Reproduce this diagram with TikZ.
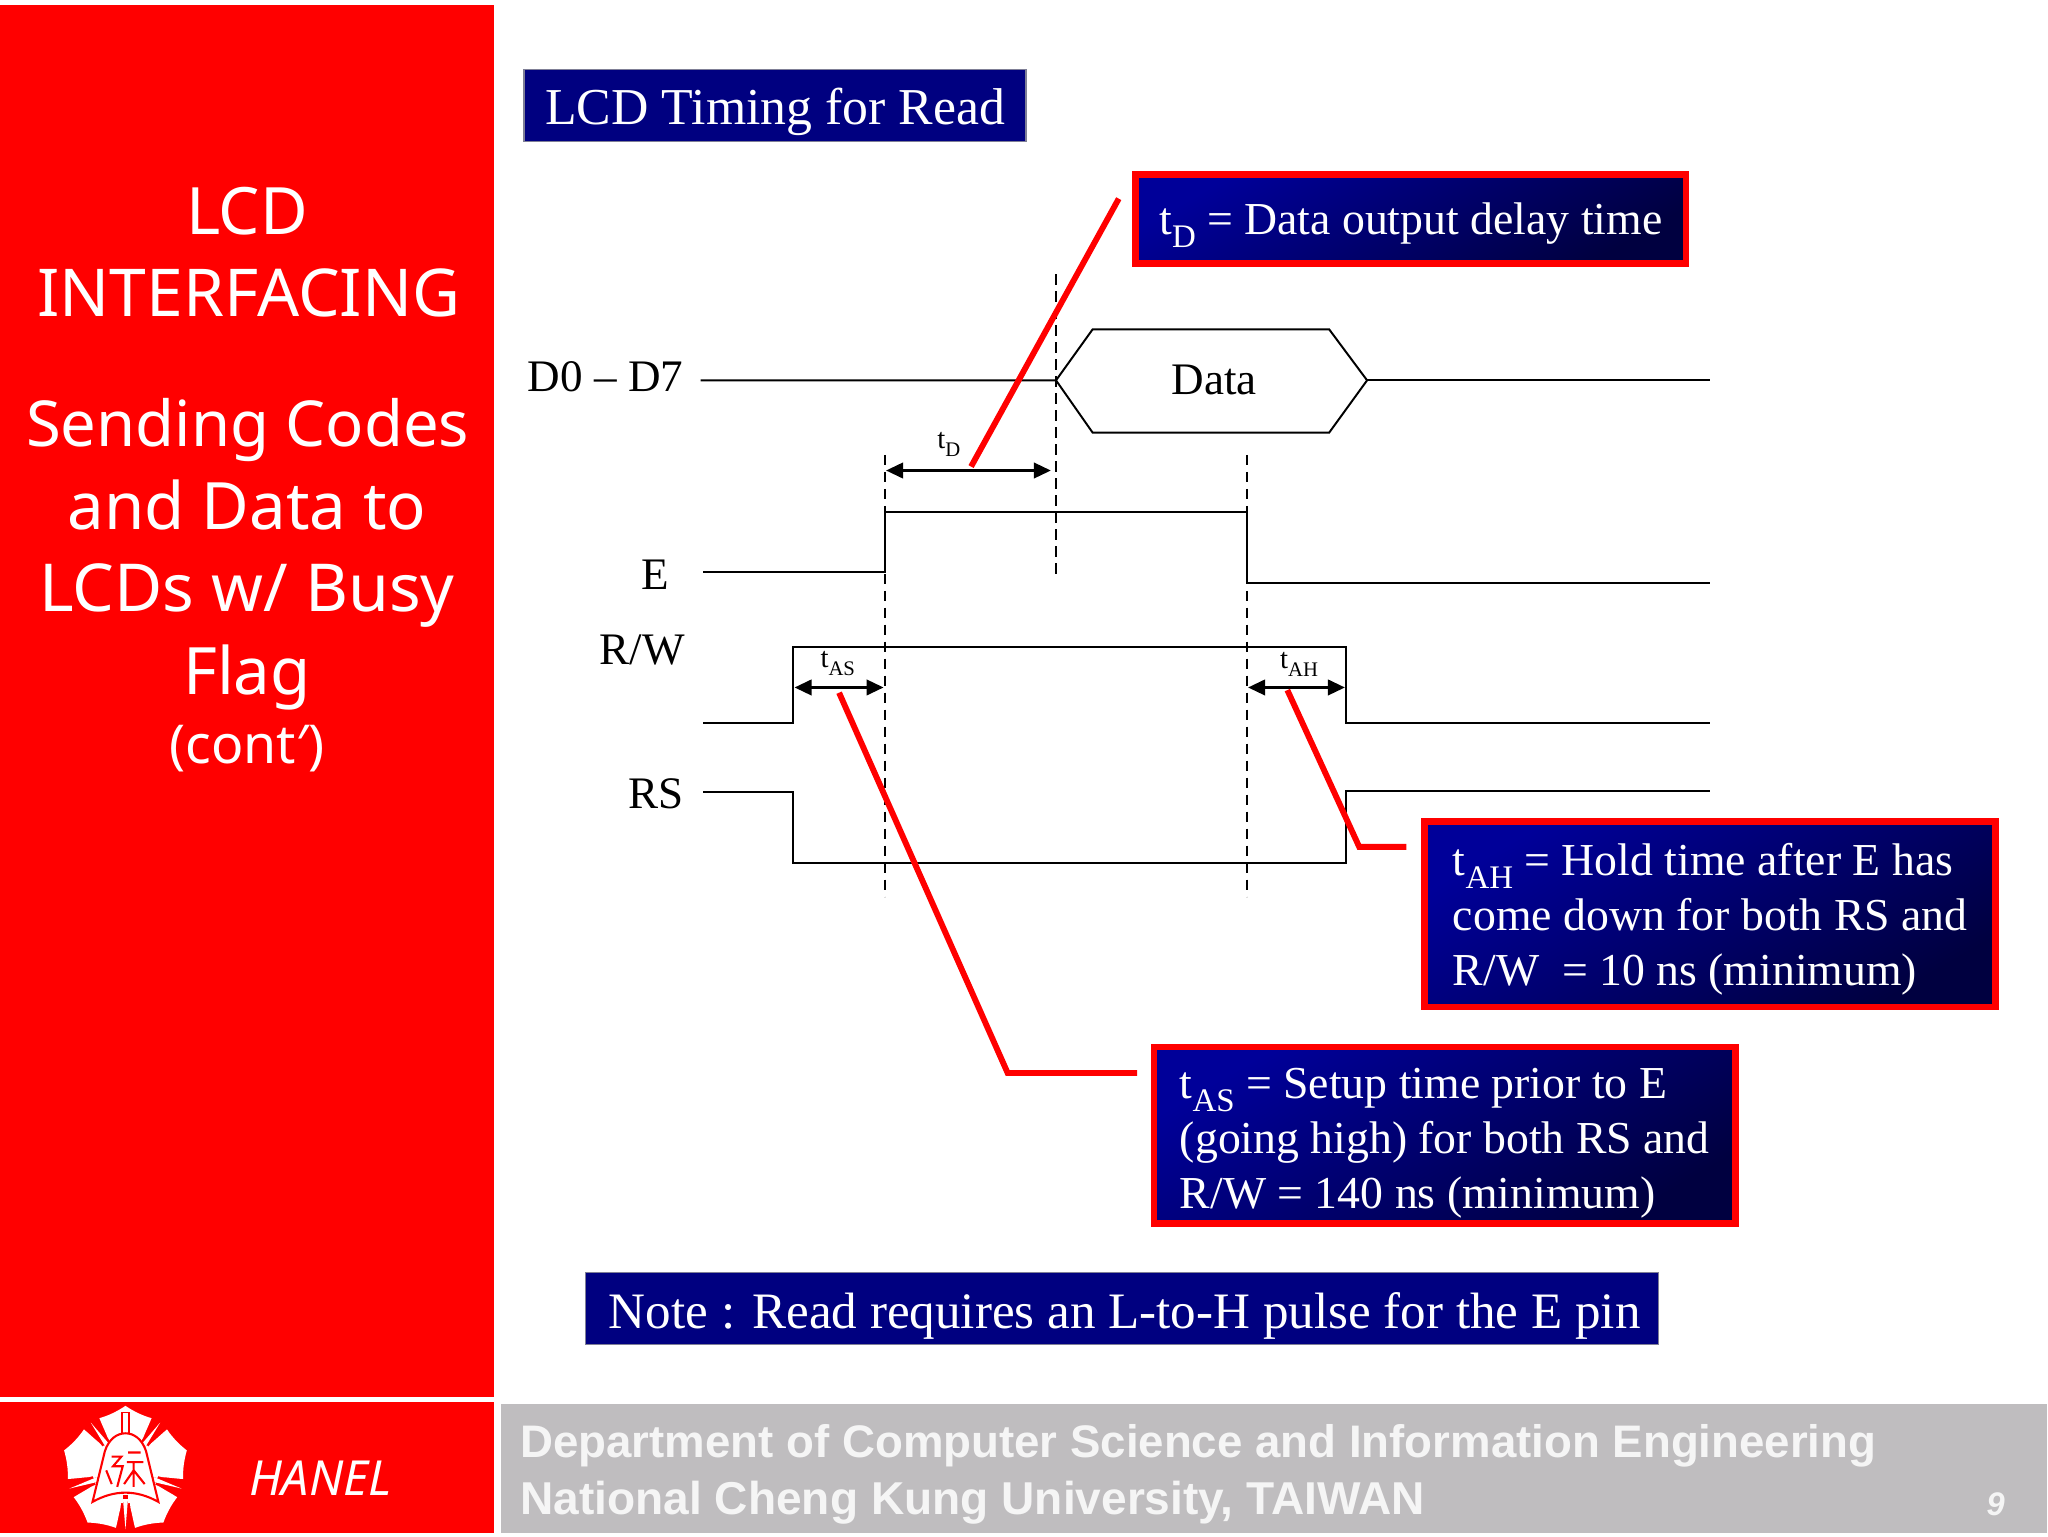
\documentclass[tikz,border=0pt]{standalone}
\usepackage{fontspec}
\setmainfont{Liberation Serif}
\newfontfamily\sidefont{Noto Sans}
\newfontfamily\footfont{Liberation Sans}
\usetikzlibrary{arrows.meta,calc}
\definecolor{navybox}{HTML}{000080}
\definecolor{redbar}{HTML}{FF0000}
\definecolor{footgrey}{HTML}{BFBDBF}
\definecolor{boxedge}{HTML}{7F7F96}
\newcommand{\sbs}[1]{\raisebox{-0.28em}{\scalebox{0.72}{#1}}}
\newcommand{\fs}[1]{\fontsize{#1}{#1}\selectfont}
\tikzset{
  sig/.style={line width=1.5pt,black,line join=miter},
  guide/.style={line width=1.4pt,black,dash pattern=on 8pt off 5pt},
  span/.style={line width=1.6pt,black,{Triangle[length=13pt,width=12pt]}-{Triangle[length=13pt,width=12pt]},shorten <=1pt,shorten >=1pt},
  callout/.style={line width=4.5pt,redbar},
  titlebox/.style={draw=boxedge,line width=1.2pt,fill=navybox,text=white,font=\fs{39.6},anchor=north west,inner sep=0pt,text height=30pt,text depth=0pt},
  notebox/.style={draw=redbar,line width=5pt,left color=blue!60!black,right color=blue!25!black,shading angle=30,text=white,font=\fontsize{35}{42}\selectfont,anchor=north west,inner sep=0pt,align=left},
  siglabel/.style={font=\fs{34.5},black,inner sep=0pt},
  smalllabel/.style={font=\fs{22},black,inner sep=0pt},
  sidetext/.style={font=\sidefont\fs{50},white,inner sep=0pt,anchor=base},
  foottext/.style={font=\footfont\bfseries\fs{34.9},white!96!black,inner sep=0pt,anchor=west},
}
\begin{document}
\begin{tikzpicture}[x=1pt,y=-1pt]
\useasboundingbox (0,0) rectangle (1567,1176);
\fill[white] (0,0) rectangle (1567,1176);
% panels
\fill[redbar] (0,4) rectangle (378,1069);
\fill[redbar] (0,1073) rectangle (378,1173);
\fill[footgrey] (383,1074) rectangle (1566,1173);
% side text
\node[sidetext] (s1) at (189,179.5) {LCD};
\node[sidetext,font=\sidefont\fs{50.5}] (s2) at (190.5,242) {INTERFACING};
\node[sidetext,font=\sidefont\fs{48.5}] (s3) at (189.5,342) {Sending Codes};
\node[sidetext] (s4) at (189,405) {and Data to};
\node[sidetext,font=\sidefont\fs{50.6}] (s5) at (189,468) {LCDs w/ Busy};
\node[sidetext] (s6) at (189,531) {Flag};
\node[sidetext,font=\sidefont\fs{41}] (s7) at (189,584) {(cont′)};
% logo
\begin{scope}[shift={(96,1125)},scale=1.05]
  \foreach \r in {0,72,144,216,288}{
    \fill[white,rotate=\r] (0,-2) -- (-13,-24) .. controls (-15,-29) and (-17,-33) .. (-19,-38) .. controls (-12,-40) and (-6,-43) .. (0,-47) .. controls (6,-43) and (12,-40) .. (19,-38) .. controls (17,-33) and (15,-29) .. (13,-24) -- cycle;
  }
  \fill[white] (0,0) circle (24);
  \foreach \r in {0,72,144,216,288}{
    \draw[redbar,line width=3.5pt,rotate=\r] (0,18) -- (0,44);
    \fill[white,rotate=\r] (-1.8,21) -- (1.8,21) -- (0,43) -- cycle;
  }
  \fill[white] (-2.5,-42) rectangle (2.5,-24);
  \draw[redbar,line width=1.2pt] (-2.5,-24) -- (-2.5,-42) -- (2.5,-42) -- (2.5,-24);
  \draw[redbar,line width=1.6pt,fill=white] (-15,-14) .. controls (-12,-23) and (-6,-27) .. (0,-27) .. controls (6,-27) and (12,-23) .. (15,-14) -- (24,23) .. controls (8,14) and (-8,14) .. (-24,23) -- cycle;
  \draw[redbar,line width=1.6pt] (-10,-10) -- (-3,-10) -- (-9,-3) -- (-2,-3) -- (-6,12) (-14,0) -- (-10,10) (2,-13) -- (11,-13) (1,-6) -- (13,-6) (6,-6) -- (6,12) (6,0) -- (-1,10) (6,0) -- (14,10);
\end{scope}
\node[font=\sidefont\itshape\fs{37},white,inner sep=0pt] (hanel) at (245,1131) {HANEL};
% footer
\node[foottext] (f1) at (398,1106) {Department of Computer Science and Information Engineering};
\node[foottext,font=\footfont\bfseries\fs{35.25}] (f2) at (398,1150) {National Cheng Kung University, TAIWAN};
\node[font=\footfont\bfseries\itshape\fs{25},white!96!black,inner sep=0pt] (pg) at (1527,1151) {9};
% boxes
\node[titlebox,minimum width=384pt,minimum height=55pt] (ttl) at (400.5,52.5) {LCD Timing for Read};
\node[titlebox,font=\fs{39.1},minimum width=821pt,minimum height=55pt] (nt) at (447.5,973) {\hspace*{4pt}Note : Read requires an L-to-H pulse for the E pin};
\node[notebox,minimum width=421pt,minimum height=68pt] (bd) at (866.5,131) {\rule{0pt}{34pt}t\sbs{D} = Data output delay time};
\node[notebox,minimum width=437pt,minimum height=142pt] (bah) at (1087.5,626) {\rule{0pt}{32pt}t\sbs{AH} = Hold time after E has\\come down for both RS and\\R/W\ \ = 10 ns (minimum)};
\node[notebox,minimum width=445pt,minimum height=135pt] (bas) at (880.5,798.5) {\rule{0pt}{36pt}t\sbs{AS} = Setup time prior to E\\(going high) for both RS and\\R/W = 140 ns (minimum)};
% labels
\node[siglabel,anchor=east] (l0) at (523,288) {D0 -- D7};
\node[siglabel] (l1) at (501.5,440) {E};
\node[siglabel,anchor=east] (l2) at (524,497) {R/W};
\node[siglabel,anchor=east] (l3) at (523,607) {RS};
\node[siglabel] (dt) at (929,291) {Data};
% guides
\coordinate (g1a) at (808,210); \coordinate (g1b) at (808,443);
\coordinate (g2a) at (677,348); \coordinate (g2b) at (677,686);
\coordinate (g3a) at (954,348); \coordinate (g3b) at (954,686);
\draw[guide] (g1a) -- (g1b);
\draw[guide] (g2a) -- (g2b);
\draw[guide] (g3a) -- (g3b);
% signals
\draw[sig] (536,291) -- (808,291) -- (836,252) -- (1017,252) -- (1046,291) -- (1017,331) -- (836,331) -- (808,291);
\draw[sig] (1046,291) -- (1308,291);
\draw[sig] (538,438) -- (677,438) -- (677,392) -- (954,392) -- (954,446) -- (1308,446);
\draw[sig] (538,553) -- (607,553) -- (607,495) -- (1030,495) -- (1030,553) -- (1308,553);
\draw[sig] (538,606) -- (607,606) -- (607,660) -- (1030,660) -- (1030,605) -- (1308,605);
% spans
\coordinate (d1) at (677,360); \coordinate (d2) at (805,360);
\coordinate (a1) at (607,526); \coordinate (a2) at (677,526);
\coordinate (h1) at (954,526); \coordinate (h2) at (1030,526);
\draw[span] (d1) -- (d2);
\draw[span] (a1) -- (a2);
\draw[span] (h1) -- (h2);
\node[smalllabel] (td) at (726,340) {t\sbs{D}};
\node[smalllabel] (tas) at (641,508) {t\sbs{AS}};
\node[smalllabel] (tah) at (994,508) {t\sbs{AH}};
% callouts
\coordinate (c1a) at (856,152); \coordinate (c1b) at (743,357);
\coordinate (c2a) at (1076,648); \coordinate (c2b) at (1040,648); \coordinate (c2c) at (985,528);
\coordinate (c3a) at (870,821); \coordinate (c3b) at (771,821); \coordinate (c3c) at (642,530);
\draw[callout] (c1a) -- (c1b);
\draw[callout] (c2a) -- (c2b) -- (c2c);
\draw[callout] (c3a) -- (c3b) -- (c3c);
\end{tikzpicture}
\end{document}
